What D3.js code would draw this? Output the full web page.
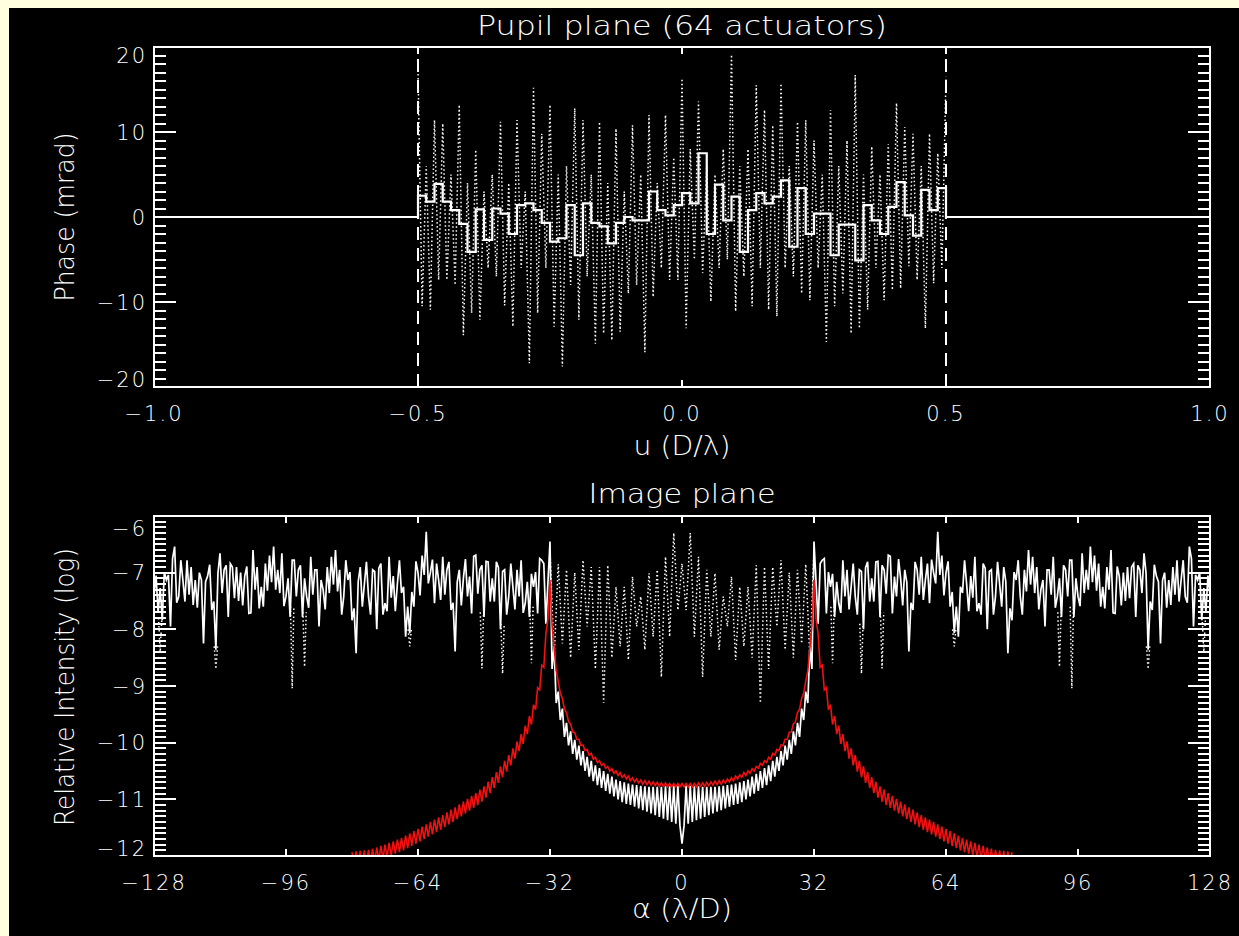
<!DOCTYPE html>
<html>
<head>
<meta charset="utf-8">
<script src="https://cdn.jsdelivr.net/npm/d3@7"></script>
<style>
  body { margin: 0; background: #ffffe0; }
  svg { display: block; color: #fff; }
  text { font-family: 'DejaVu Sans', sans-serif; font-weight: 200; fill: #fff; }
  .axis text { font-size: 21px; letter-spacing: 2px; }
  .axis line { stroke-width: 2; shape-rendering: crispEdges; }
  .axis .domain { display: none; }
  .frame { fill: none; stroke: #fff; stroke-width: 2; shape-rendering: crispEdges; }
  .title { font-size: 27px; }
  .solid { fill: none; stroke: #fff; stroke-width: 1.7; }
  .steps { fill: none; stroke: #fff; stroke-width: 2.2; }
  .dotted { fill: none; stroke: #fff; stroke-width: 1.5; stroke-dasharray: 1.5,2.5; }
  .dashed { fill: none; stroke: #fff; stroke-width: 2; stroke-dasharray: 13,8; }
  .red { fill: none; stroke: #f21010; stroke-width: 1.6; }
</style>
</head>
<body>
<svg id="chart" width="1239" height="936"></svg>
<script>
// ---------- pupil plane ----------
const pupilXTicks = [-1, -0.5, 0, 0.5, 1];
const pupilYTicks = [-20, -10, 0, 10, 20];
const pupilEdges = [-0.5, 0.5];

// one value per actuator, u = -0.5 ... 0.5 in 64 steps (mrad)
const actuatorPhase = [
  2.5, 1.8, 3.9, 1.8, 0.8, -0.8, -4.1, 0.9, -2.7, 1.0,
  0.4, -2.0, 1.4, 1.6, 0.8, -0.7, -2.9, -2.5, 1.4, -4.5,
  1.6, -0.7, -1.1, -3.1, -0.7, 0.0, -0.4, -0.4, 3.0, 0.8,
  0.2, 1.4, 2.8, 1.6, 7.5, -2.0, 3.8, -0.4, 2.4, -4.1,
  0.8, 2.8, 1.6, 2.4, 4.3, -3.5, 3.4, -2.0, 0.4, 0.4,
  -4.5, -0.9, -0.9, -5.1, 1.4, -0.4, -2.0, 1.2, 4.1, 0.2,
  -2.2, 3.2, 0.8, 3.4
];

// fine phase, u = -0.5 ... 0.5 in steps of 1/128 (mrad)
const finePhase = [
  17.3, -10.5, 6.0, -10.9, 11.4, -7.4, 11.0, -7.4, 5.0, -8.0,
  13.2, -13.9, 4.0, -11.3, 7.9, -12.1, 3.0, -6.0, 5.0, -7.0,
  11.2, -10.4, 4.0, -12.9, 11.4, -6.0, 3.0, -17.2, 15.2, -11.3,
  9.8, -6.0, 13.2, -12.9, 5.0, -17.6, 6.0, -8.0, 12.8, -12.1,
  11.4, -7.0, 5.0, -14.9, 11.2, -13.7, 4.0, -14.5, 10.4, -13.5,
  3.0, -9.0, 10.8, -8.0, 5.0, -15.9, 12.0, -9.4, 4.0, -6.0,
  12.0, -7.4, 7.0, -7.4, 16.3, -13.1, 8.0, -5.0, 13.6, -6.6,
  6.0, -9.95, 5.0, -6.0, 8.0, -5.0, 19.1, -11.1, 6.0, -7.0,
  8.0, -10.5, 15.5, -6.0, 12.6, -10.9, 10.8, -11.7, 15.7, -6.0,
  6.0, -7.0, 11.2, -9.0, 11.4, -9.8, 9.0, -6.0, 5.0, -14.7,
  12.6, -10.5, 6.0, -9.0, 9.0, -13.7, 16.7, -13.1, 5.0, -10.9,
  8.3, -6.0, 5.0, -9.8, 8.6, -8.6, 13.4, -8.4, 10.6, -5.8,
  9.8, -7.4, 6.0, -13.1, 9.8, -7.8, 7.5, -6.0, 16.5
];

// ---------- image plane ----------
const imageXTicks = [-128, -96, -64, -32, 0, 32, 64, 96, 128];
const imageYTicks = [-12, -11, -10, -9, -8, -7, -6];

// halo outside the corrected zone (log intensity)
// haloLeft: alpha = -128 ... -33, haloLeftHalf: alpha = -127.5 ... -33.5
const haloLeft = [
  -7.40, -7.70, -7.84, -7.13, -7.95, -6.54, -7.42, -7.13, -6.78, -6.90,
  -7.13, -7.00, -8.25, -7.06, -7.66, -8.36, -6.66, -6.95, -7.78, -6.90,
  -6.90, -7.00, -7.06, -7.72, -6.60, -6.90, -7.25, -6.84, -6.70, -6.54,
  -6.95, -6.66, -7.42, -7.78, -6.78, -6.95, -7.78, -7.42, -6.72, -6.95,
  -7.95, -7.30, -6.90, -6.72, -6.60, -6.95, -7.42, -7.13, -7.84, -8.42,
  -6.90, -7.20, -7.42, -6.95, -8.00, -6.84, -7.54, -6.72, -7.06, -7.20,
  -7.36, -8.13, -8.07, -7.60, -7.00, -6.70, -6.28, -7.00, -7.54, -7.13,
  -6.72, -6.95, -7.66, -8.39, -6.95, -7.10, -7.42, -7.72, -6.69, -6.95,
  -7.78, -6.81, -7.10, -6.81, -8.00, -6.95, -7.42, -7.25, -6.95, -6.78,
  -7.54, -7.78, -7.25, -7.72, -6.78, -7.90
];
const haloLeftHalf = [
  -7.05, -7.27, -6.99, -7.04, -6.75, -7.53, -6.78, -7.51, -7.39, -7.57,
  -7.62, -7.13, -7.16, -6.86, -7.51, -7.01, -7.36, -6.87, -6.84, -7.45,
  -7.50, -7.58, -6.89, -7.71, -7.30, -7.63, -7.60, -7.32, -7.17, -7.30,
  -7.36, -7.59, -7.10, -6.78, -7.42, -6.87, -7.10, -7.62, -7.39, -6.95,
  -7.13, -7.65, -7.36, -7.21, -7.33, -7.74, -6.78, -6.99, -7.63, -7.16,
  -7.60, -6.81, -7.74, -6.98, -6.92, -7.74, -7.68, -7.44, -7.68, -6.78,
  -7.25, -7.60, -7.34, -6.80, -7.40, -7.04, -7.19, -6.77, -6.84, -7.48,
  -7.39, -6.81, -7.53, -7.17, -7.58, -6.76, -7.07, -6.71, -7.37, -6.87,
  -6.80, -7.51, -7.51, -6.91, -6.98, -7.74, -6.84, -7.65, -7.42, -7.71,
  -7.16, -7.02, -6.99, -6.75, -6.84
];
// haloRight: alpha = 33 ... 128, haloRightHalf: alpha = 33.5 ... 127.5
const haloRight = [
  -7.90, -6.78, -7.72, -7.25, -7.78, -7.54,
  -6.78, -6.95, -7.25, -7.42, -6.95, -8.00, -6.81, -7.10, -6.81, -7.78,
  -6.95, -6.69, -7.72, -7.42, -7.10, -6.95, -8.39, -7.66, -6.95, -6.72,
  -7.13, -7.54, -7.00, -6.28, -6.70, -7.00, -7.60, -8.07, -8.13, -7.36,
  -7.20, -7.06, -6.72, -7.54, -6.84, -8.00, -6.95, -7.42, -7.20, -6.90,
  -8.42, -7.84, -7.13, -7.42, -6.95, -6.60, -6.72, -6.90, -7.30, -7.95,
  -6.95, -6.72, -7.42, -7.78, -6.95, -6.78, -7.78, -7.42, -6.66, -6.95,
  -6.54, -6.70, -6.84, -7.25, -6.90, -6.60, -7.72, -7.06, -7.00, -6.90,
  -6.90, -7.78, -6.95, -6.66, -8.36, -7.66, -7.06, -8.25, -7.00, -7.13,
  -6.90, -6.78, -7.13, -7.42, -6.54, -7.95, -7.13, -7.84, -7.70, -7.40
];
const haloRightHalf = [
  -6.84, -6.75, -6.99, -7.02, -7.16, -7.71, -7.42, -7.65, -6.84, -7.74,
  -6.98, -6.91, -7.51, -7.51, -6.80, -6.87, -7.37, -6.71, -7.07, -6.76,
  -7.58, -7.17, -7.53, -6.81, -7.39, -7.48, -6.84, -6.77, -7.19, -7.04,
  -7.40, -6.80, -7.34, -7.60, -7.25, -6.78, -7.68, -7.44, -7.68, -7.74,
  -6.92, -6.98, -7.74, -6.81, -7.60, -7.16, -7.63, -6.99, -6.78, -7.74,
  -7.33, -7.21, -7.36, -7.65, -7.13, -6.95, -7.39, -7.62, -7.10, -6.87,
  -7.42, -6.78, -7.10, -7.59, -7.36, -7.30, -7.17, -7.32, -7.60, -7.63,
  -7.30, -7.71, -6.89, -7.58, -7.50, -7.45, -6.84, -6.87, -7.36, -7.01,
  -7.51, -6.86, -7.16, -7.13, -7.62, -7.57, -7.39, -7.51, -6.78, -7.53,
  -6.75, -7.04, -6.99, -7.27, -7.05
];

// dark hole, upper samples at alpha = -32 ... 32, lower samples at alpha = -31.5 ... 31.5
const holeUpper = [
  -6.45, -8.30, -9.10, -9.40, -9.65, -9.80, -9.95, -10.05, -10.15, -10.25,
  -10.32, -10.40, -10.45, -10.50, -10.55, -10.60, -10.65, -10.68, -10.70, -10.72,
  -10.74, -10.75, -10.76, -10.77, -10.78, -10.78, -10.78, -10.78, -10.77, -10.77,
  -10.76, -10.76, -11.78, -10.76, -10.76, -10.77, -10.77, -10.78, -10.78, -10.78,
  -10.78, -10.77, -10.76, -10.75, -10.74, -10.72, -10.70, -10.68, -10.65, -10.60,
  -10.55, -10.50, -10.45, -10.40, -10.32, -10.25, -10.15, -10.05, -9.95, -9.80,
  -9.65, -9.40, -9.10, -8.30, -6.45
];
const holeLower = [
  -8.70, -9.30, -9.60, -9.90, -10.05, -10.20, -10.30, -10.40, -10.50, -10.60,
  -10.68, -10.75, -10.80, -10.85, -10.90, -10.95, -11.00, -11.05, -11.08, -11.10,
  -11.13, -11.16, -11.19, -11.22, -11.25, -11.28, -11.31, -11.34, -11.37, -11.40,
  -11.43, -11.46, -11.46, -11.43, -11.40, -11.37, -11.34, -11.31, -11.28, -11.25,
  -11.22, -11.19, -11.16, -11.13, -11.10, -11.08, -11.05, -11.00, -10.95, -10.90,
  -10.85, -10.80, -10.75, -10.68, -10.60, -10.50, -10.40, -10.30, -10.20, -10.05,
  -9.90, -9.60, -9.30, -8.70
];

// uncorrected halo (dotted), alpha = -32 ... 32
const haloDotted = [
  -6.60, -8.50, -6.85, -8.25, -6.95, -8.50, -7.00, -8.36, -6.78, -7.95,
  -6.90, -8.70, -6.90, -9.30, -6.87, -8.50, -7.25, -8.30, -7.25, -8.54,
  -7.07, -7.95, -7.42, -8.36, -7.01, -8.13, -6.95, -8.84, -6.72, -8.13,
  -6.30, -7.66, -6.84, -7.66, -6.30, -8.13, -6.72, -8.84, -6.95, -8.13,
  -7.01, -8.36, -7.42, -7.95, -7.07, -8.54, -7.25, -8.30, -7.25, -8.50,
  -6.87, -9.30, -6.90, -8.70, -6.90, -7.95, -6.78, -8.36, -7.00, -8.50,
  -6.95, -8.25, -6.85, -8.50, -6.60
];
// places where the dotted halo drops below the solid one
const dipAlpha = [-126.5, -113, -94.5, -91.5, -66, -48.5, -43.5, -36.5, 36.5, 43.5, 48.5, 66, 91.5, 94.5, 113, 126.5];
const dipTop = [-7.8, -8.3, -7.6, -7.7, -8.0, -7.7, -7.9, -7.6, -7.6, -7.9, -7.7, -8.0, -7.7, -7.6, -8.3, -7.8];
const dipLow = [-8.4, -8.7, -9.04, -8.66, -8.3, -8.69, -8.78, -8.6, -8.6, -8.78, -8.69, -8.3, -8.66, -9.04, -8.7, -8.4];

// red curve, upper samples at alpha = -80 ... 80, lower samples at alpha = -79.5 ... 79.5
const redUpper = [
  -11.93, -11.92, -11.91, -11.90, -11.89, -11.87, -11.85, -11.82, -11.80, -11.77,
  -11.74, -11.71, -11.68, -11.64, -11.60, -11.56, -11.52, -11.48, -11.44, -11.40,
  -11.36, -11.32, -11.28, -11.23, -11.18, -11.14, -11.09, -11.04, -10.99, -10.94,
  -10.89, -10.83, -10.77, -10.69, -10.61, -10.52, -10.42, -10.32, -10.22, -10.10,
  -9.98, -9.85, -9.70, -9.53, -9.33, -9.03, -8.63, -8.08, -7.13, -8.32,
  -8.92, -9.22, -9.47, -9.67, -9.82, -9.94, -10.04, -10.12, -10.19, -10.26,
  -10.32, -10.37, -10.42, -10.46, -10.50, -10.53, -10.57, -10.59, -10.62, -10.64,
  -10.66, -10.67, -10.68, -10.69, -10.70, -10.71, -10.71, -10.72, -10.72, -10.72,
  -10.72,
  -10.72, -10.72, -10.72, -10.71, -10.71, -10.70, -10.69, -10.68, -10.67, -10.66,
  -10.64, -10.62, -10.59, -10.57, -10.53, -10.50, -10.46, -10.42, -10.37, -10.32,
  -10.26, -10.19, -10.12, -10.04, -9.94, -9.82, -9.67, -9.47, -9.22, -8.92,
  -8.32, -7.13, -8.08, -8.63, -9.03, -9.33, -9.53, -9.70, -9.85, -9.98,
  -10.10, -10.22, -10.32, -10.42, -10.52, -10.61, -10.69, -10.77, -10.83, -10.89,
  -10.94, -10.99, -11.04, -11.09, -11.14, -11.18, -11.23, -11.28, -11.32, -11.36,
  -11.40, -11.44, -11.48, -11.52, -11.56, -11.60, -11.64, -11.68, -11.71, -11.74,
  -11.77, -11.80, -11.82, -11.85, -11.87, -11.89, -11.90, -11.91, -11.92, -11.93
];
const redLower = [
  -12.17, -12.15, -12.14, -12.13, -12.12, -12.10, -12.08, -12.05, -12.02, -11.99,
  -11.96, -11.93, -11.90, -11.86, -11.82, -11.78, -11.74, -11.70, -11.66, -11.62,
  -11.58, -11.54, -11.49, -11.44, -11.40, -11.35, -11.30, -11.25, -11.20, -11.15,
  -11.10, -11.04, -10.97, -10.89, -10.80, -10.71, -10.61, -10.51, -10.40, -10.28,
  -10.15, -10.02, -9.85, -9.68, -9.42, -9.07, -8.67, -7.82, -7.93, -8.73,
  -9.13, -9.41, -9.63, -9.81, -9.94, -10.05, -10.14, -10.22, -10.29, -10.35,
  -10.40, -10.45, -10.50, -10.54, -10.58, -10.61, -10.64, -10.67, -10.69, -10.71,
  -10.73, -10.74, -10.75, -10.76, -10.77, -10.77, -10.78, -10.78, -10.78, -10.78,
  -10.78, -10.78, -10.78, -10.78, -10.77, -10.77, -10.76, -10.75, -10.74, -10.73,
  -10.71, -10.69, -10.67, -10.64, -10.61, -10.58, -10.54, -10.50, -10.45, -10.40,
  -10.35, -10.29, -10.22, -10.14, -10.05, -9.94, -9.81, -9.63, -9.41, -9.13,
  -8.73, -7.93, -7.82, -8.67, -9.07, -9.42, -9.68, -9.85, -10.02, -10.15,
  -10.28, -10.40, -10.51, -10.61, -10.71, -10.80, -10.89, -10.97, -11.04, -11.10,
  -11.15, -11.20, -11.25, -11.30, -11.35, -11.40, -11.44, -11.49, -11.54, -11.58,
  -11.62, -11.66, -11.70, -11.74, -11.78, -11.82, -11.86, -11.90, -11.93, -11.96,
  -11.99, -12.02, -12.05, -12.08, -12.10, -12.12, -12.13, -12.14, -12.15, -12.17
];


class Panel {

    constructor(_config) {
        this.config = {
            parentElement: _config.parentElement,
            id: _config.id,
            left: _config.left || 154,
            top: _config.top,
            width: _config.width || 1056,
            height: _config.height || 340,
            xDomain: _config.xDomain,
            yDomain: _config.yDomain,
            xTicks: _config.xTicks,
            yTicks: _config.yTicks,
            yMinor: _config.yMinor,
            xFormat: _config.xFormat,
            yFormat: _config.yFormat,
            topLabelDy: _config.topLabelDy
        };
        this.initVis();
    }

    initVis() {
        let vis = this;
        const c = vis.config;

        vis.x = d3.scaleLinear().domain(c.xDomain).range([0, c.width]);
        vis.y = d3.scaleLinear().domain(c.yDomain).range([c.height, 0]);

        vis.g = c.parentElement.append('g')
            .attr('transform', `translate(${c.left},${c.top})`);

        vis.g.append('clipPath')
            .attr('id', c.id + '-clip')
            .append('rect')
            .attr('width', c.width)
            .attr('height', c.height);

        vis.plot = vis.g.append('g')
            .attr('clip-path', `url(#${c.id}-clip)`);

        vis.line = d3.line()
            .x(d => vis.x(d[0]))
            .y(d => vis.y(d[1]));
    }

    renderAxes() {
        let vis = this;
        const c = vis.config;
        const [yMin, yMax] = c.yDomain;

        // minor y ticks, both sides
        vis.g.append('g').attr('class', 'axis')
            .call(d3.axisLeft(vis.y).tickValues(c.yMinor).tickSize(-12).tickFormat('').offset(0));
        vis.g.append('g').attr('class', 'axis')
            .attr('transform', `translate(${c.width},0)`)
            .call(d3.axisRight(vis.y).tickValues(c.yMinor).tickSize(-12).tickFormat('').offset(0));

        // major y ticks
        vis.g.append('g').attr('class', 'axis')
            .call(d3.axisLeft(vis.y)
                .tickValues(c.yTicks)
                .tickSizeInner(-22)
                .tickSizeOuter(0)
                .tickPadding(7)
                .tickFormat(c.yFormat)
                .offset(0))
            .selectAll('text')
            .attr('dy', d => d === yMax ? c.topLabelDy : (d === yMin ? '0.02em' : '0.36em'));
        vis.g.append('g').attr('class', 'axis')
            .attr('transform', `translate(${c.width},0)`)
            .call(d3.axisRight(vis.y).tickValues(c.yTicks).tickSize(-22).tickFormat('').offset(0));

        // x ticks
        vis.g.append('g').attr('class', 'axis')
            .attr('transform', `translate(0,${c.height})`)
            .call(d3.axisBottom(vis.x)
                .tickValues(c.xTicks)
                .tickSizeInner(-7)
                .tickSizeOuter(0)
                .tickPadding(19)
                .tickFormat(c.xFormat)
                .offset(0));
        vis.g.append('g').attr('class', 'axis')
            .call(d3.axisTop(vis.x).tickValues(c.xTicks).tickSize(-7).tickFormat('').offset(0));

        vis.g.append('rect')
            .attr('class', 'frame')
            .attr('width', c.width)
            .attr('height', c.height);
    }

    addLine(points, cls, curve) {
        let vis = this;
        vis.line.curve(curve || d3.curveLinear);
        vis.plot.append('path')
            .datum(points)
            .attr('class', cls)
            .attr('d', vis.line);
    }
}


const svg = d3.select('#chart');
svg.append('rect')
    .attr('x', 9).attr('y', 8)
    .attr('width', 1239 - 9).attr('height', 936 - 8)
    .attr('fill', '#000');

// ----- top panel -----
const pupil = new Panel({
    parentElement: svg,
    id: 'pupil',
    top: 47,
    xDomain: [-1, 1],
    yDomain: [-20, 20],
    xTicks: pupilXTicks,
    yTicks: pupilYTicks,
    yMinor: d3.range(-20, 21, 1),
    xFormat: d3.format('.1f'),
    yFormat: d3.format('d'),
    topLabelDy: '0.78em'
});

const actuatorU = actuatorPhase.map((v, i) => -0.5 + i / actuatorPhase.length);
const fineU = finePhase.map((v, i) => -0.5 + i / (finePhase.length - 1));

pupil.addLine(fineU.map((u, i) => [u, finePhase[i]]), 'dotted');
pupilEdges.forEach(u => pupil.addLine([[u, -20], [u, 20]], 'dashed'));
pupil.addLine(
    [[-1, 0]].concat(actuatorU.map((u, i) => [u, actuatorPhase[i]]), [[0.5, 0], [1, 0]]),
    'steps', d3.curveStepAfter);
pupil.renderAxes();

// ----- bottom panel -----
const image = new Panel({
    parentElement: svg,
    id: 'image',
    top: 516,
    xDomain: [-128, 128],
    yDomain: [-12, -6],
    xTicks: imageXTicks,
    yTicks: imageYTicks,
    yMinor: d3.range(-120, -59).map(v => v / 10),
    xFormat: d3.format('d'),
    yFormat: d3.format('d'),
    topLabelDy: '0.95em'
});

const solidPoints = [];
haloLeft.forEach((v, i) => {
    solidPoints.push([-128 + i, v]);
    if (i < haloLeftHalf.length) solidPoints.push([-127.5 + i, haloLeftHalf[i]]);
});
holeUpper.forEach((v, i) => {
    solidPoints.push([-32 + i, v]);
    if (i < holeLower.length) solidPoints.push([-31.5 + i, holeLower[i]]);
});
haloRight.forEach((v, i) => {
    solidPoints.push([33 + i, v]);
    if (i < haloRightHalf.length) solidPoints.push([33.5 + i, haloRightHalf[i]]);
});

const redPoints = [];
redUpper.forEach((v, i) => {
    redPoints.push([-80 + i, v]);
    if (i < redLower.length) redPoints.push([-79.5 + i, redLower[i]]);
});

image.addLine(haloDotted.map((v, i) => [-32 + i, v]), 'dotted');
dipAlpha.forEach((a, i) => {
    image.addLine([[a - 0.4, dipTop[i]], [a, dipLow[i]], [a + 0.4, dipTop[i]]], 'dotted');
});
image.addLine(solidPoints, 'solid');
image.addLine(redPoints, 'red');
image.renderAxes();

// ----- titles -----
const labels = [
    { text: 'Pupil plane (64 actuators)', x: 682, y: 35, len: 410 },
    { text: 'u (D/\u03bb)', x: 682, y: 455, len: 97 },
    { text: 'Image plane', x: 682, y: 503, len: 187 },
    { text: '\u03b1 (\u03bb/D)', x: 682, y: 918, len: 100 }
];
labels.forEach(l => {
    svg.append('text')
        .attr('class', 'title')
        .attr('x', l.x).attr('y', l.y)
        .attr('text-anchor', 'middle')
        .attr('textLength', l.len)
        .attr('lengthAdjust', 'spacingAndGlyphs')
        .text(l.text);
});

const yLabels = [
    { text: 'Phase (mrad)', y: 217, len: 169 },
    { text: 'Relative Intensity (log)', y: 687, len: 278 }
];
yLabels.forEach(l => {
    svg.append('text')
        .attr('class', 'title')
        .attr('transform', `translate(74,${l.y}) rotate(-90)`)
        .attr('text-anchor', 'middle')
        .attr('font-size', 26)
        .attr('textLength', l.len)
        .attr('lengthAdjust', 'spacingAndGlyphs')
        .text(l.text);
});
</script>
</body>
</html>
